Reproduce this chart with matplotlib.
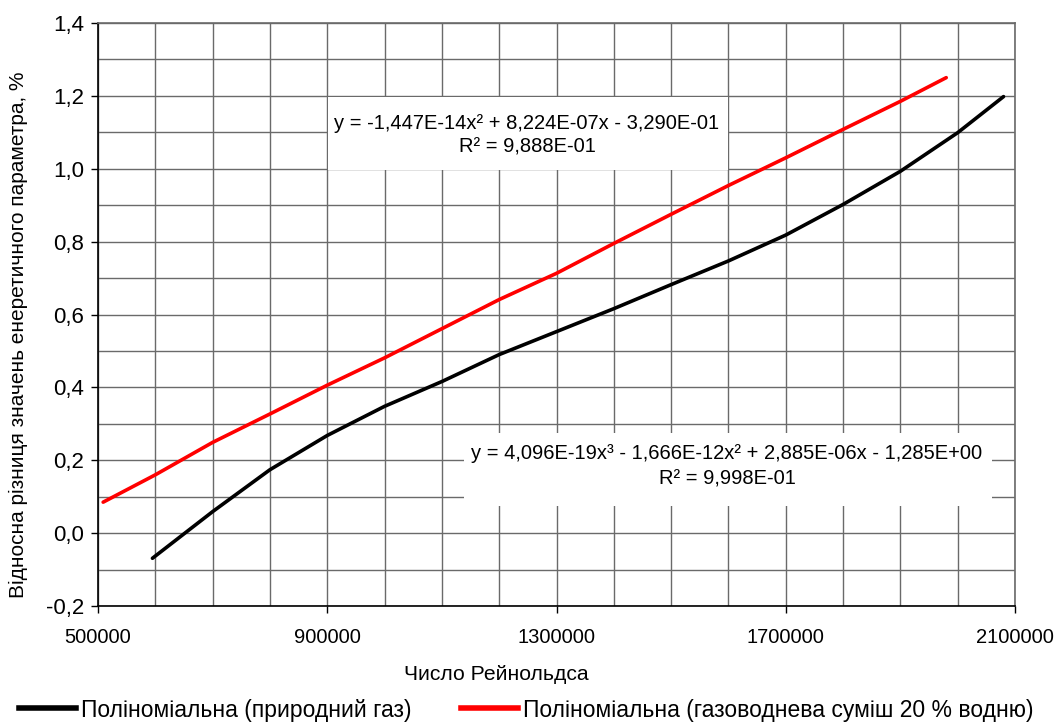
import matplotlib
matplotlib.use("Agg")
import matplotlib.pyplot as plt
from matplotlib.patches import Rectangle
from matplotlib.ticker import MultipleLocator, FixedLocator, FuncFormatter

plt.rcParams['font.family'] = ['Liberation Sans', 'DejaVu Sans']

# values
re_gas = [595000, 700000, 800000, 900000, 1000000, 1100000, 1200000, 1300000,
          1400000, 1500000, 1600000, 1700000, 1800000, 1900000, 2000000, 2080000]
diff_gas = [-0.069, 0.059, 0.174, 0.268, 0.348, 0.416, 0.490, 0.553,
            0.616, 0.682, 0.747, 0.818, 0.902, 0.993, 1.099, 1.198]

re_h2 = [509000, 600000, 700000, 800000, 900000, 1000000, 1100000, 1200000,
         1300000, 1400000, 1500000, 1600000, 1700000, 1800000, 1900000, 1980000]
diff_h2 = [0.085, 0.160, 0.249, 0.327, 0.406, 0.481, 0.561, 0.641,
           0.713, 0.795, 0.875, 0.954, 1.030, 1.108, 1.185, 1.250]

x_ticks = [500000, 900000, 1300000, 1700000, 2100000]

label_gas = "Поліноміальна (природний газ)"
label_h2 = "Поліноміальна (газоводнева суміш 20 % водню)"
eq_h2 = "y = -1,447E-14x² + 8,224E-07x - 3,290E-01\nR² = 9,888E-01"
eq_gas = "y = 4,096E-19x³ - 1,666E-12x² + 2,885E-06x - 1,285E+00\nR² = 9,998E-01"

fs = 14.5
fig = plt.figure(figsize=(10.56, 7.23), dpi=100)
ax = fig.add_axes([98/1056, 1-606/723, 917/1056, 583/723])

ax.plot(re_gas, diff_gas, color='black', lw=2.6, solid_capstyle='round', zorder=3)
ax.plot(re_h2, diff_h2, color='#ff0000', lw=2.6, solid_capstyle='round', zorder=3)

ax.set_xlim(500000, 2100000)
ax.set_ylim(-0.2, 1.4)
ax.xaxis.set_major_locator(FixedLocator(x_ticks))
ax.xaxis.set_minor_locator(MultipleLocator(100000))
ax.yaxis.set_major_locator(MultipleLocator(0.2))
ax.yaxis.set_minor_locator(MultipleLocator(0.1))
ax.yaxis.set_major_formatter(FuncFormatter(lambda v, p: f"{v:.1f}".replace('.', ',')))
ax.xaxis.set_major_formatter(FuncFormatter(lambda v, p: f"{int(round(v))}"))

ax.set_axisbelow(True)
ax.grid(True, which='both', color='#6a6a6a', lw=1.0)
ax.tick_params(which='major', direction='out', length=5, width=1,
               color='black', pad=5)
ax.tick_params(which='minor', length=0)
ax.tick_params(axis='x', pad=11, labelsize=fs)
ax.tick_params(axis='y', labelsize=16)
for s in ['left', 'bottom']:
    ax.spines[s].set_color('black')
    ax.spines[s].set_linewidth(1.2)
for s in ['top', 'right']:
    ax.spines[s].set_color('#6a6a6a')
    ax.spines[s].set_linewidth(1.2)

# white boxes under the trendline equations
ax.add_patch(Rectangle((0.2508, 0.7479), 0.4362, 0.1252, transform=ax.transAxes,
                       facecolor='white', edgecolor='none', zorder=1.5))
ax.add_patch(Rectangle((0.3991, 0.1715), 0.5758, 0.1252, transform=ax.transAxes,
                       facecolor='white', edgecolor='none', zorder=1.5))
ax.text(0.4678, 0.8082, eq_h2, transform=ax.transAxes, ha='center', va='center',
        multialignment='center', fontsize=fs, linespacing=1.3, zorder=4)
ax.text(0.6859, 0.2401, eq_gas, transform=ax.transAxes, ha='center', va='center',
        multialignment='center', fontsize=fs, linespacing=1.4, zorder=4)

fig.text(496/1056, 1-674/723, "Число Рейнольдса", ha='center', va='center', fontsize=15.2)
fig.text(18/1056, 1-335/723, "Відносна різниця значень енеретичного параметра, %",
         rotation=90, ha='center', va='center', fontsize=15)

h1, = ax.plot([], [], color='black', lw=4)
h2, = ax.plot([], [], color='#ff0000', lw=4)
fig.legend([h1, h2], [label_gas, label_h2], loc='center left',
           bbox_to_anchor=(19/1056, 1-710/723), ncol=2, frameon=False,
           fontsize=16.5, borderpad=0, borderaxespad=0, handlelength=2.5,
           handletextpad=0.2, columnspacing=2.15)

fig.savefig("out.png", dpi=100)
